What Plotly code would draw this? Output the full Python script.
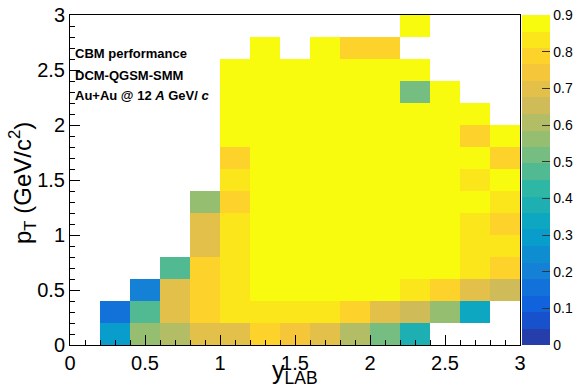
import plotly.graph_objects as go

# Bin edges (y_LAB along x, pT along y)
y_lab_edges = [round(0.2 * i, 1) for i in range(16)]
pt_edges = [round(0.2 * i, 1) for i in range(16)]

N = None
# Efficiency rows, from pT = 0-0.2 (bottom) to 2.8-3.0 (top); columns y_LAB 0-0.2 ... 2.8-3.0
row_00 = [N, 0.30, 0.56, 0.61, 0.71, 0.72, 0.77, 0.73, 0.69, 0.61, 0.52, 0.37, N, N, N]
row_02 = [N, 0.17, 0.48, 0.68, 0.79, 0.83, 0.83, 0.83, 0.83, 0.78, 0.71, 0.67, 0.57, 0.36, N]
row_04 = [N, N, 0.20, 0.68, 0.80, 0.83, 0.88, 0.88, 0.88, 0.88, 0.88, 0.83, 0.78, 0.72, 0.67]
row_06 = [N, N, N, 0.48, 0.78, 0.83, 0.88, 0.88, 0.88, 0.88, 0.88, 0.88, 0.88, 0.83, 0.77]
row_08 = [N, N, N, N, 0.71, 0.83, 0.88, 0.88, 0.88, 0.88, 0.88, 0.88, 0.88, 0.83, 0.84]
row_10 = [N, N, N, N, 0.71, 0.83, 0.88, 0.88, 0.88, 0.88, 0.88, 0.88, 0.88, 0.83, 0.79]
row_12 = [N, N, N, N, 0.57, 0.79, 0.88, 0.88, 0.88, 0.88, 0.88, 0.88, 0.88, 0.88, 0.83]
row_14 = [N, N, N, N, N, 0.83, 0.88, 0.88, 0.88, 0.88, 0.88, 0.88, 0.88, 0.83, 0.88]
row_16 = [N, N, N, N, N, 0.79, 0.88, 0.88, 0.88, 0.88, 0.88, 0.88, 0.88, 0.88, 0.79]
row_18 = [N, N, N, N, N, 0.88, 0.88, 0.88, 0.88, 0.88, 0.88, 0.88, 0.88, 0.79, 0.88]
row_20 = [N, N, N, N, N, 0.88, 0.88, 0.88, 0.88, 0.88, 0.88, 0.88, 0.88, 0.88, N]
row_22 = [N, N, N, N, N, 0.88, 0.88, 0.88, 0.88, 0.88, 0.88, 0.52, 0.88, N, N]
row_24 = [N, N, N, N, N, 0.88, 0.88, 0.88, 0.88, 0.88, 0.88, 0.88, N, N, N]
row_26 = [N, N, N, N, N, N, 0.88, N, 0.88, 0.78, 0.78, N, N, N, N]
row_28 = [N, N, N, N, N, N, N, N, N, N, N, 0.88, N, N, N]

z = [row_00, row_02, row_04, row_06, row_08, row_10, row_12, row_14,
     row_16, row_18, row_20, row_22, row_24, row_26, row_28]

# ROOT kBird palette, quantised into 20 contour bands
stops = [0.0, 0.125, 0.25, 0.375, 0.5, 0.625, 0.75, 0.875, 1.0]
red = [0.2082, 0.0592, 0.0780, 0.0232, 0.1802, 0.5301, 0.8186, 0.9956, 0.9764]
green = [0.1664, 0.3599, 0.5041, 0.6419, 0.7178, 0.7492, 0.7328, 0.7862, 0.9832]
blue = [0.5293, 0.8684, 0.8385, 0.7914, 0.6425, 0.4662, 0.3499, 0.1968, 0.0539]


def bird(f):
    f = min(max(f, 0.0), 1.0)
    for k in range(len(stops) - 1):
        if f <= stops[k + 1]:
            t = (f - stops[k]) / (stops[k + 1] - stops[k])
            r = red[k] + t * (red[k + 1] - red[k])
            g = green[k] + t * (green[k + 1] - green[k])
            b = blue[k] + t * (blue[k + 1] - blue[k])
            return "rgb(%d,%d,%d)" % (round(r * 255), round(g * 255), round(b * 255))
    return "rgb(249,251,14)"


nb = 20
colorscale = []
for i in range(nb):
    c = bird((i + 0.99) / nb)
    colorscale.append([i / nb, c])
    colorscale.append([(i + 1) / nb, c])

FONT = "Liberation Sans, Arial, Helvetica, sans-serif"

fig = go.Figure(go.Heatmap(
    x=y_lab_edges, y=pt_edges, z=z,
    zmin=0, zmax=0.9, colorscale=colorscale,
    colorbar=dict(
        x=1.004, xanchor="left", xpad=0, ypad=0,
        y=0.5, yanchor="middle", len=1, lenmode="fraction",
        thickness=28, outlinewidth=0,
        tickmode="linear", tick0=0, dtick=0.1,
        ticks="inside", ticklen=8, tickcolor="#333", tickwidth=1,
        tickfont=dict(family=FONT, size=14, color="black"),
    ),
    hoverinfo="skip",
))

axis_common = dict(
    range=[0, 3], tick0=0, dtick=0.5, ticks="inside", ticklen=10,
    tickcolor="black", tickwidth=1,
    minor=dict(ticks="inside", ticklen=5, dtick=0.1, tickcolor="black", tickwidth=1),
    showline=True, linecolor="black", linewidth=1, mirror=True,
    showgrid=False, zeroline=False,
    tickfont=dict(family=FONT, size=20, color="black"),
)

fig.update_layout(
    width=576, height=392,
    margin=dict(l=70, r=56, t=15, b=47, autoexpand=False),
    paper_bgcolor="white", plot_bgcolor="white",
    xaxis=dict(**axis_common),
    yaxis=dict(**axis_common),
    font=dict(family=FONT, color="black"),
    annotations=[
        dict(text="y<sub>LAB</sub>", xref="paper", yref="paper", x=0.5, y=-0.083,
             xanchor="center", yanchor="middle", showarrow=False,
             font=dict(family=FONT, size=25)),
        dict(text="p<sub>T</sub> (GeV/c<sup>2</sup>)", xref="paper", yref="paper",
             x=-0.105, y=0.49, xanchor="center", yanchor="middle", textangle=-90,
             showarrow=False, font=dict(family=FONT, size=24)),
        dict(text="<b>CBM performance</b>", xref="paper", yref="paper", x=0.007, y=0.882,
             xanchor="left", yanchor="middle", showarrow=False, font=dict(family=FONT, size=13)),
        dict(text="<b>DCM-QGSM-SMM</b>", xref="paper", yref="paper", x=0.007, y=0.818,
             xanchor="left", yanchor="middle", showarrow=False, font=dict(family=FONT, size=13)),
        dict(text="<b>Au+Au @ 12 <i>A</i> GeV/ <i>c</i></b>", xref="paper", yref="paper",
             x=0.007, y=0.756, xanchor="left", yanchor="middle", showarrow=False,
             font=dict(family=FONT, size=13)),
    ],
)

fig.write_html("out.html")
